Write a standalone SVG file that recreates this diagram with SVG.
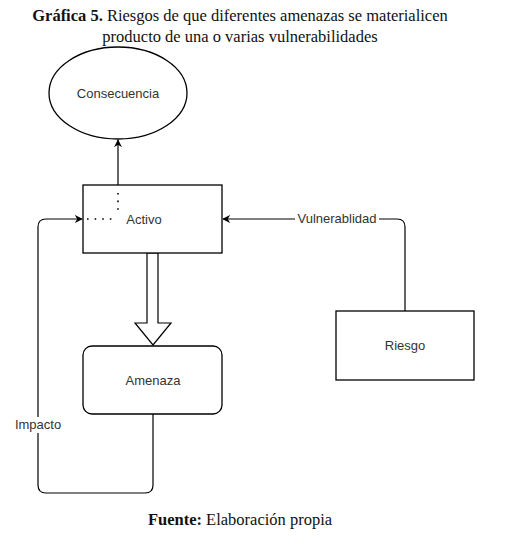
<svg xmlns="http://www.w3.org/2000/svg" width="519" height="549" viewBox="0 0 519 549">
<defs>
<style>
.cap{font-family:"Liberation Serif",serif;font-size:16.5px;fill:#111}
.lbl{font-family:"Liberation Sans",Arial,sans-serif;font-size:13px;fill:#333;text-anchor:middle}
.shape{fill:#fff;stroke:#000;stroke-width:1.3}
.conn{fill:none;stroke:#000;stroke-width:1.2}
</style>
<marker id="arr" viewBox="0 0 10 10" refX="9" refY="5" markerWidth="8" markerHeight="8" orient="auto" markerUnits="userSpaceOnUse">
<path d="M0,0 L10,5 L0,10 L3,5 Z" fill="#000"/>
</marker>
</defs>
<rect width="519" height="549" fill="#fff"/>
<text class="cap" x="240" y="21" text-anchor="middle"><tspan font-weight="bold">Gráfica 5.</tspan> Riesgos de que diferentes amenazas se materialicen</text>
<text class="cap" x="240" y="42" text-anchor="middle">producto de una o varias vulnerabilidades</text>

<g id="connectors">
<path class="conn" d="M118,185 L118,140" marker-end="url(#arr)"/>
<path class="conn" d="M153,414 L153,485 Q153,493 145,493 L46,493 Q38,493 38,485 L38,227 Q38,219 46,219 L82,219" marker-end="url(#arr)"/>
<path class="conn" d="M405,311 L405,227 Q405,219 397,219 L223,219" marker-end="url(#arr)"/>
<path d="M147,253 L158,253 L158,323 L171,323 L153,345 L135,323 L147,323 Z" fill="#fff" stroke="#000" stroke-width="1.2"/>
<rect x="295" y="211" width="84" height="16" fill="#fff"/>
<text class="lbl" x="337" y="223">Vulnerablidad</text>
<rect x="12" y="417" width="52" height="16" fill="#fff"/>
<text class="lbl" x="38" y="429">Impacto</text>
</g>

<g id="consecuencia">
<ellipse class="shape" cx="118" cy="93" rx="69" ry="46"/>
<text class="lbl" x="118" y="98">Consecuencia</text>
</g>
<g id="activo">
<rect class="shape" x="83" y="185" width="139" height="68"/>
<path d="M118,193 L118,213 M87,219 L114,219" stroke="#000" stroke-width="1.6" stroke-dasharray="1.6 6" fill="none"/>
<text class="lbl" x="144" y="224">Activo</text>
</g>
<g id="amenaza">
<rect class="shape" x="83" y="346" width="139" height="68" rx="9"/>
<text class="lbl" x="153" y="385">Amenaza</text>
</g>
<g id="riesgo">
<rect class="shape" x="336" y="311" width="138" height="69"/>
<text class="lbl" x="405" y="350">Riesgo</text>
</g>

<text class="cap" x="240" y="525" text-anchor="middle"><tspan font-weight="bold">Fuente:</tspan> Elaboración propia</text>
</svg>
